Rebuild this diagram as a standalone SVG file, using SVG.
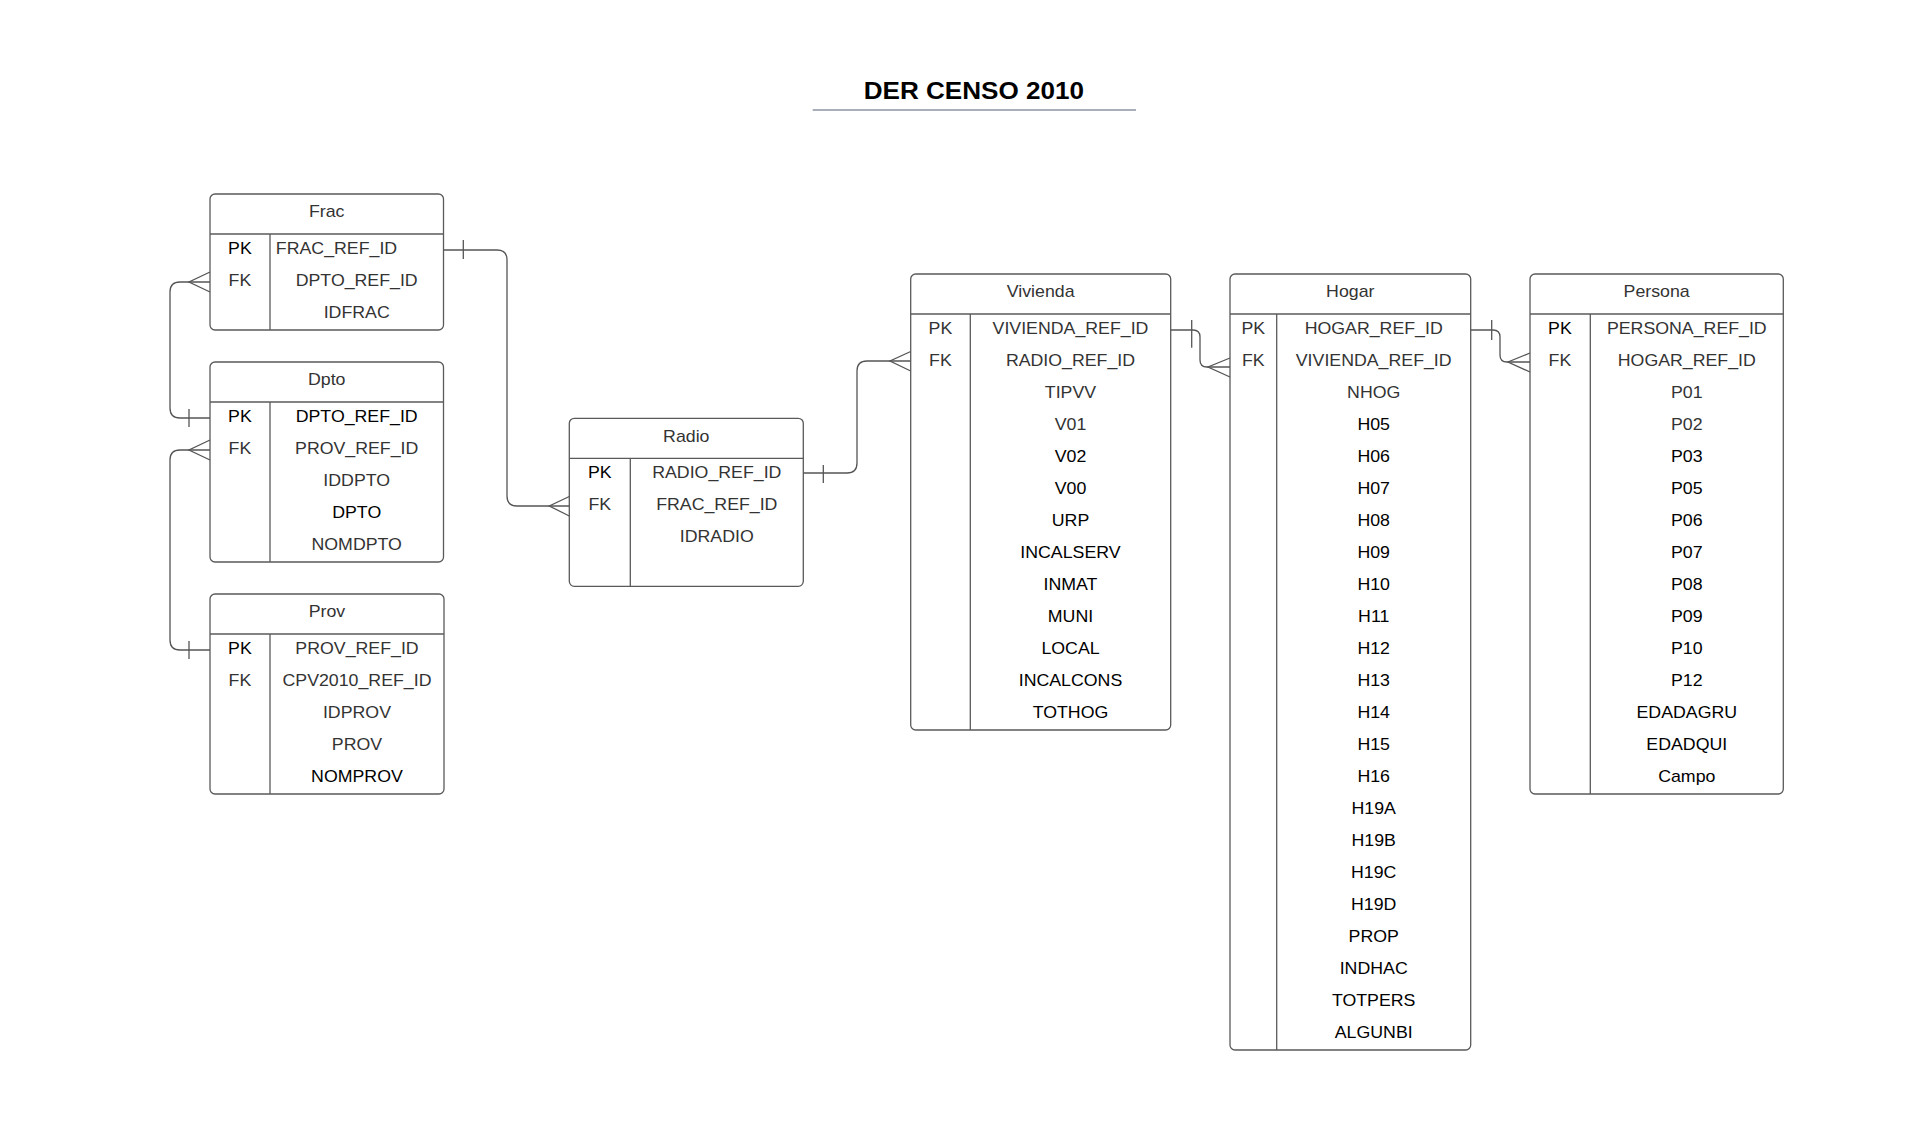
<svg xmlns="http://www.w3.org/2000/svg" width="1927" height="1127" viewBox="0 0 1927 1127">
<style>
text{font-family:"Liberation Sans",Arial,sans-serif;font-size:16px;fill:#333;text-anchor:middle;transform-box:fill-box;transform-origin:center;transform:scaleX(1.11)}
text.b{fill:#000}
text.title{font-size:23.5px;font-weight:bold;fill:#000}
.box{fill:#fff;stroke:#5a5a5a;stroke-width:1.3}
.ln{fill:none;stroke:#5a5a5a;stroke-width:1.3}
.cn{fill:none;stroke:#555;stroke-width:1.3}
</style>
<rect width="1927" height="1127" fill="#fff"/>
<g id="title">
<text class="title" x="973.8" y="99.5">DER CENSO 2010</text>
<line x1="812.7" y1="110" x2="1136" y2="110" stroke="#a9aebb" stroke-width="2"/>
</g>

<g id="frac">
<rect class="box" x="210" y="194" width="233.5" height="136" rx="5"/>
<line class="ln" x1="210" y1="234" x2="443.5" y2="234"/>
<line class="ln" x1="270" y1="234" x2="270" y2="330"/>
<text x="326.7" y="217.5">Frac</text>
<text class="b" x="240" y="254">PK</text>
<text x="336.5" y="254">FRAC_REF_ID</text>
<text x="240" y="286">FK</text>
<text x="356.7" y="286">DPTO_REF_ID</text>
<text x="356.7" y="318">IDFRAC</text>
</g>

<g id="dpto">
<rect class="box" x="210" y="362" width="233.5" height="200" rx="5"/>
<line class="ln" x1="210" y1="402" x2="443.5" y2="402"/>
<line class="ln" x1="270" y1="402" x2="270" y2="562"/>
<text x="326.7" y="385.5">Dpto</text>
<text class="b" x="240" y="422">PK</text>
<text class="b" x="356.7" y="422">DPTO_REF_ID</text>
<text x="240" y="454">FK</text>
<text x="356.7" y="454">PROV_REF_ID</text>
<text x="356.7" y="486">IDDPTO</text>
<text class="b" x="356.7" y="518">DPTO</text>
<text x="356.7" y="550">NOMDPTO</text>
</g>

<g id="prov">
<rect class="box" x="210" y="594" width="234" height="200" rx="5"/>
<line class="ln" x1="210" y1="634" x2="444" y2="634"/>
<line class="ln" x1="270" y1="634" x2="270" y2="794"/>
<text x="327" y="617.5">Prov</text>
<text class="b" x="240" y="654">PK</text>
<text x="357" y="654">PROV_REF_ID</text>
<text x="240" y="686">FK</text>
<text x="357" y="686">CPV2010_REF_ID</text>
<text x="357" y="718">IDPROV</text>
<text x="357" y="750">PROV</text>
<text class="b" x="357" y="782">NOMPROV</text>
</g>

<g id="radio">
<rect class="box" x="569.3" y="418.3" width="234" height="168" rx="5"/>
<line class="ln" x1="569.3" y1="458.3" x2="803.3" y2="458.3"/>
<line class="ln" x1="630.3" y1="458.3" x2="630.3" y2="586.3"/>
<text x="686.3" y="441.8">Radio</text>
<text class="b" x="599.8" y="478.3">PK</text>
<text x="716.8" y="478.3">RADIO_REF_ID</text>
<text x="599.8" y="510.3">FK</text>
<text x="716.8" y="510.3">FRAC_REF_ID</text>
<text x="716.8" y="542.3">IDRADIO</text>
</g>

<g id="vivienda">
<rect class="box" x="910.7" y="274" width="260" height="456" rx="5"/>
<line class="ln" x1="910.7" y1="314" x2="1170.7" y2="314"/>
<line class="ln" x1="970.3" y1="314" x2="970.3" y2="730"/>
<text x="1040.7" y="297.5">Vivienda</text>
<text x="940.5" y="334">PK</text>
<text x="1070.5" y="334">VIVIENDA_REF_ID</text>
<text x="940.5" y="366">FK</text>
<text x="1070.5" y="366">RADIO_REF_ID</text>
<text x="1070.5" y="398">TIPVV</text>
<text x="1070.5" y="430">V01</text>
<text class="b" x="1070.5" y="462">V02</text>
<text class="b" x="1070.5" y="494">V00</text>
<text class="b" x="1070.5" y="526">URP</text>
<text class="b" x="1070.5" y="558">INCALSERV</text>
<text class="b" x="1070.5" y="590">INMAT</text>
<text class="b" x="1070.5" y="622">MUNI</text>
<text class="b" x="1070.5" y="654">LOCAL</text>
<text class="b" x="1070.5" y="686">INCALCONS</text>
<text class="b" x="1070.5" y="718">TOTHOG</text>
</g>

<g id="hogar">
<rect class="box" x="1230" y="274" width="240.7" height="776" rx="5"/>
<line class="ln" x1="1230" y1="314" x2="1470.7" y2="314"/>
<line class="ln" x1="1276.7" y1="314" x2="1276.7" y2="1050"/>
<text x="1350.3" y="297.5">Hogar</text>
<text x="1253.3" y="334">PK</text>
<text x="1373.7" y="334">HOGAR_REF_ID</text>
<text x="1253.3" y="366">FK</text>
<text x="1373.7" y="366">VIVIENDA_REF_ID</text>
<text x="1373.7" y="398">NHOG</text>
<text class="b" x="1373.7" y="430">H05</text>
<text class="b" x="1373.7" y="462">H06</text>
<text class="b" x="1373.7" y="494">H07</text>
<text class="b" x="1373.7" y="526">H08</text>
<text class="b" x="1373.7" y="558">H09</text>
<text class="b" x="1373.7" y="590">H10</text>
<text class="b" x="1373.7" y="622">H11</text>
<text class="b" x="1373.7" y="654">H12</text>
<text class="b" x="1373.7" y="686">H13</text>
<text class="b" x="1373.7" y="718">H14</text>
<text class="b" x="1373.7" y="750">H15</text>
<text class="b" x="1373.7" y="782">H16</text>
<text class="b" x="1373.7" y="814">H19A</text>
<text class="b" x="1373.7" y="846">H19B</text>
<text class="b" x="1373.7" y="878">H19C</text>
<text class="b" x="1373.7" y="910">H19D</text>
<text class="b" x="1373.7" y="942">PROP</text>
<text class="b" x="1373.7" y="974">INDHAC</text>
<text class="b" x="1373.7" y="1006">TOTPERS</text>
<text class="b" x="1373.7" y="1038">ALGUNBI</text>
</g>

<g id="persona">
<rect class="box" x="1530" y="274" width="253.3" height="520" rx="5"/>
<line class="ln" x1="1530" y1="314" x2="1783.3" y2="314"/>
<line class="ln" x1="1590.3" y1="314" x2="1590.3" y2="794"/>
<text x="1656.7" y="297.5">Persona</text>
<text class="b" x="1560" y="334">PK</text>
<text x="1686.8" y="334">PERSONA_REF_ID</text>
<text x="1560" y="366">FK</text>
<text x="1686.8" y="366">HOGAR_REF_ID</text>
<text x="1686.8" y="398">P01</text>
<text x="1686.8" y="430">P02</text>
<text class="b" x="1686.8" y="462">P03</text>
<text class="b" x="1686.8" y="494">P05</text>
<text class="b" x="1686.8" y="526">P06</text>
<text class="b" x="1686.8" y="558">P07</text>
<text class="b" x="1686.8" y="590">P08</text>
<text class="b" x="1686.8" y="622">P09</text>
<text class="b" x="1686.8" y="654">P10</text>
<text class="b" x="1686.8" y="686">P12</text>
<text class="b" x="1686.8" y="718">EDADAGRU</text>
<text class="b" x="1686.8" y="750">EDADQUI</text>
<text class="b" x="1686.8" y="782">Campo</text>
</g>

<g id="connectors">
<!-- Frac FK -> Dpto PK -->
<path class="cn" d="M210,282 H180 Q170,282 170,292 V408 Q170,418 180,418 H210"/>
<path class="cn" d="M210,272 L189,282 L210,292"/>
<line class="cn" x1="189" y1="409" x2="189" y2="427"/>
<!-- Dpto FK -> Prov PK -->
<path class="cn" d="M210,450 H180 Q170,450 170,460 V640 Q170,650 180,650 H210"/>
<path class="cn" d="M210,440 L189,450 L210,460"/>
<line class="cn" x1="189" y1="641" x2="189" y2="659"/>
<!-- Frac PK -> Radio FK -->
<path class="cn" d="M443.5,250 H497 Q507,250 507,260 V496 Q507,506 517,506 H569.3"/>
<line class="cn" x1="463.3" y1="240" x2="463.3" y2="259"/>
<path class="cn" d="M569.3,496.5 L549.3,506 L569.3,516"/>
<!-- Radio PK -> Vivienda FK -->
<path class="cn" d="M803.3,473 H847 Q857,473 857,463 V371 Q857,361 867,361 H910.7"/>
<line class="cn" x1="823.3" y1="465" x2="823.3" y2="483"/>
<path class="cn" d="M910.7,351.5 L890,361 L910.7,371"/>
<!-- Vivienda PK -> Hogar FK -->
<path class="cn" d="M1170.7,330 H1193 Q1200,330 1200,337 V360 Q1200,367 1207,367 H1230"/>
<line class="cn" x1="1191.7" y1="320" x2="1191.7" y2="347.7"/>
<path class="cn" d="M1230,358 L1208,367 L1230,377"/>
<!-- Hogar PK -> Persona FK -->
<path class="cn" d="M1470.7,330 H1493 Q1500,330 1500,337 V355 Q1500,362 1507,362 H1530"/>
<line class="cn" x1="1491.7" y1="320" x2="1491.7" y2="340"/>
<path class="cn" d="M1530,353 L1508,362 L1530,372"/>
</g>
</svg>
